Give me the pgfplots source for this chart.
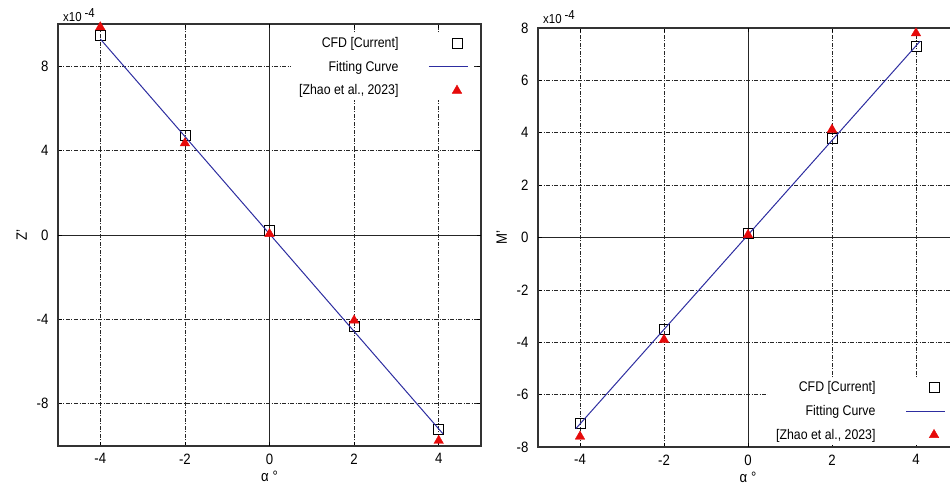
\documentclass[border=0pt]{standalone}
\usepackage{fontspec}
\setmainfont{Liberation Sans}[FakeStretch=0.88]
\usepackage{pgfplots}
\pgfplotsset{compat=1.18}
\definecolor{fitblue}{RGB}{45,45,160}
\definecolor{zred}{RGB}{230,10,10}
\pgfplotsset{
 fitlegend/.style={legend image code/.code={\draw[fitblue, line width=1pt] (-19.5pt,0pt)--(19.5pt,0pt);}},
 mystyle/.style={
  scale only axis,
  clip mode=individual,
  xmin=-5,xmax=5,
  xtick={-4,-2,2,4}, xticklabels={-4,-2,2,4},
  extra x ticks={0}, extra x tick labels={0},
  grid=major,
  major grid style={black!85, line width=0.6pt, dash pattern=on 4pt off 1.5pt on 1pt off 1.5pt},
  extra tick style={major grid style={solid, black!85, line width=0.8pt}},
  axis line style={black!80, line width=1.2pt},
  tick style={black, line width=0.6pt},
  major tick length=4pt,
  tick align=inside,
  tick label style={font=\fontsize{15}{17}\selectfont},
  xticklabel style={yshift=-4pt},
  yticklabel style={xshift=-6pt},
  label style={font=\fontsize{15}{17}\selectfont},
  ylabel style={yshift=3pt},
  xlabel={α °},
  legend plot pos=right,
  legend cell align=right,
  legend style={draw=none, fill=white, font=\fontsize{14}{16}\selectfont, column sep=28pt, row sep=8pt, inner xsep=6pt},
 }
}
\begin{document}
\begin{tikzpicture}
\path[use as bounding box] (0,0) rectangle (950pt,487pt);
\clip (0,0) rectangle (950pt,487pt);
\begin{axis}[mystyle, at={(58pt,41pt)}, anchor=south west, width=423pt, height=422pt,
  ymin=-10, ymax=10, ytick={-8,-4,4,8}, yticklabels={-8,-4,4,8},
  extra y ticks={0}, extra y tick labels={0}, ylabel={Z'},
  legend style={at={(0.985,0.978)}, anchor=north east}]
\addplot[only marks, mark=square, mark size=5pt, black, mark options={line width=0.7pt}]
  coordinates {(-4,9.45) (-2,4.7) (0,0.22) (2,-4.33) (4,-9.2)};
\addlegendentry{CFD [Current]}
\addplot[fitblue, line width=1pt, fitlegend]
  coordinates {(-4,9.29) (4.1,-9.42)};
\addlegendentry{Fitting Curve}
\addplot[only marks, mark=triangle*, mark size=5.5pt, zred]
  coordinates {(-4,9.85) (-2,4.35) (0,0.05) (2,-4.05) (4,-9.75)};
\addlegendentry{[Zhao et al., 2023]}
\node[anchor=base west, inner sep=0pt, font=\fontsize{13}{15}\selectfont] at ([xshift=5pt,yshift=2pt]rel axis cs:0,1) {x10\hspace{3pt}\raisebox{0.7ex}{-4}};
\end{axis}
\begin{axis}[mystyle, at={(538pt,40pt)}, anchor=south west, width=420pt, height=419pt,
  ymin=-8, ymax=8, ytick={-8,-6,-4,-2,2,4,6,8}, yticklabels={-8,-6,-4,-2,2,4,6,8},
  extra y ticks={0}, extra y tick labels={0}, ylabel={M'},
  legend style={at={(0.985,0.005)}, anchor=south east}]
\addplot[only marks, mark=square, mark size=5pt, black, mark options={line width=0.7pt}]
  coordinates {(-4,-7.1) (-2,-3.5) (0,0.15) (2,3.78) (4,7.3)};
\addlegendentry{CFD [Current]}
\addplot[fitblue, line width=1pt, fitlegend]
  coordinates {(-4.1,-7.3) (4.1,7.5)};
\addlegendentry{Fitting Curve}
\addplot[only marks, mark=triangle*, mark size=5.5pt, zred]
  coordinates {(-4,-7.6) (-2,-3.9) (0,0.1) (2,4.12) (4,7.8)};
\addlegendentry{[Zhao et al., 2023]}
\node[anchor=base west, inner sep=0pt, font=\fontsize{13}{15}\selectfont] at ([xshift=5pt,yshift=4pt]rel axis cs:0,1) {x10\hspace{3pt}\raisebox{0.7ex}{-4}};
\end{axis}
\end{tikzpicture}
\end{document}
